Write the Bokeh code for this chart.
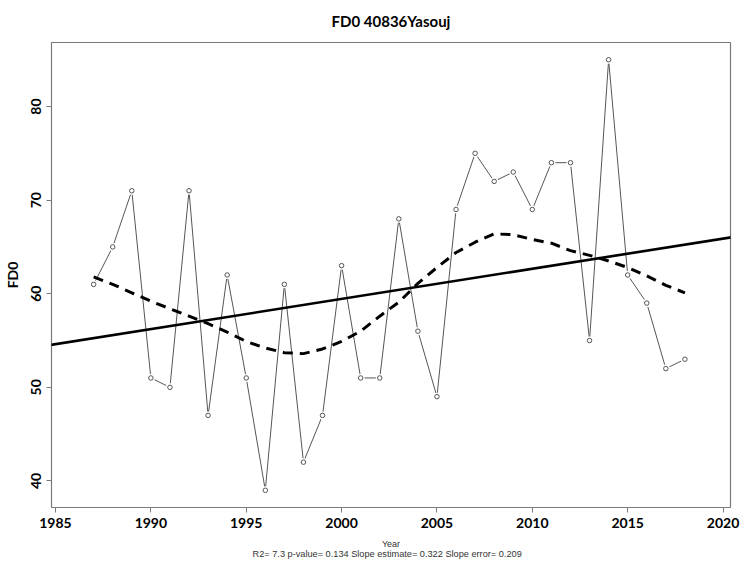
import numpy as np
from bokeh.plotting import figure
from bokeh.models import Range1d, FixedTicker, Slope, LinearAxis
from bokeh.embed import file_html
from bokeh.resources import INLINE

# ---- data ----
years = list(range(1987, 2019))
fd0 = [61, 65, 71, 51, 50, 71, 47, 62, 51, 39, 61, 42, 47, 63, 51, 51,
       68, 56, 49, 69, 75, 72, 73, 69, 74, 74, 55, 85, 62, 59, 52, 53]
# smoothed (loess) curve at each year
smooth_fd0 = [61.8, 61.0, 60.1, 59.2, 58.4, 57.6, 56.8, 55.9, 54.9, 54.2,
              53.7, 53.6, 54.1, 54.9, 56.0, 57.6, 59.1, 61.1, 62.8, 64.4,
              65.5, 66.4, 66.3, 65.8, 65.4, 64.6, 64.1, 63.5, 62.8, 61.9,
              60.9, 60.1]
x_ticks = [1985, 1990, 1995, 2000, 2005, 2010, 2015, 2020]
y_ticks = [40, 50, 60, 70, 80]
title_text = "FD0 40836Yasouj"
x_label = "Year"
y_label = "FD0"
stats_text = "R2= 7.3  p-value= 0.134  Slope estimate= 0.322  Slope error= 0.209"

# linear regression from the data
slope, intercept = np.polyfit(years, fd0, 1)

p = figure(width=744, height=561, output_backend="svg", toolbar_location=None,
           x_range=Range1d(1984.79, 2020.39), y_range=Range1d(37.16, 86.84),
           min_border_left=48, min_border_right=14, min_border_top=42,
           min_border_bottom=53)

p.xgrid.visible = False
p.ygrid.visible = False
p.outline_line_color = "#7a7a7a"
p.outline_line_width = 1.2
p.background_fill_color = "white"
p.border_fill_color = "white"

for ax in (p.xaxis[0], p.yaxis[0]):
    ax.axis_line_color = None
    ax.major_tick_line_color = "#7a7a7a"
    ax.major_tick_out = 5
    ax.major_tick_in = 0
    ax.minor_tick_line_color = None
    ax.major_label_text_font = "Lato"
    ax.major_label_text_font_style = "bold"
    ax.major_label_text_font_size = "14px"
    ax.major_label_text_color = "black"

p.xaxis[0].ticker = FixedTicker(ticks=x_ticks)
p.yaxis[0].ticker = FixedTicker(ticks=y_ticks)
p.yaxis[0].major_label_orientation = "vertical"
p.xaxis[0].major_label_standoff = 5
p.yaxis[0].major_label_standoff = 5

p.xaxis[0].axis_label = x_label
p.xaxis[0].axis_label_text_font = "Liberation Sans"
p.xaxis[0].axis_label_text_font_style = "normal"
p.xaxis[0].axis_label_text_font_size = "9px"
p.xaxis[0].axis_label_text_color = "#333333"
p.xaxis[0].axis_label_standoff = 8

p.yaxis[0].axis_label = y_label
p.yaxis[0].axis_label_text_font = "Lato"
p.yaxis[0].axis_label_text_font_style = "bold"
p.yaxis[0].axis_label_text_font_size = "14px"
p.yaxis[0].axis_label_text_color = "black"
p.yaxis[0].axis_label_standoff = 8


def label_only_axis(text, font, size, style, color, standoff):
    ax = LinearAxis(ticker=FixedTicker(ticks=[]), axis_label=text)
    ax.axis_line_color = None
    ax.major_tick_line_color = None
    ax.minor_tick_line_color = None
    ax.major_tick_out = 0
    ax.major_tick_in = 0
    ax.minor_tick_out = 0
    ax.major_label_text_font_size = "0px"
    ax.axis_label_text_font = font
    ax.axis_label_text_font_size = size
    ax.axis_label_text_font_style = style
    ax.axis_label_text_color = color
    ax.axis_label_standoff = standoff
    return ax


# main title above the frame
p.add_layout(label_only_axis(title_text, "Lato", "15px", "bold", "black", 13), "above")
# statistics line beneath "Year"
p.add_layout(label_only_axis(stats_text, "Liberation Sans", "9.2px", "normal",
                             "#333333", -3), "below")

# data line with open circles (type "b")
p.line(years, fd0, line_color="#555555", line_width=1)
p.scatter(years, fd0, marker="circle", size=8, fill_color="white", line_color=None)
p.scatter(years, fd0, marker="circle", size=4.5, fill_color="white",
          line_color="#555555", line_width=1)

# regression line
p.add_layout(Slope(gradient=slope, y_intercept=intercept,
                   line_color="black", line_width=2.6))

# smoothed dashed curve
p.line(years, smooth_fd0, line_color="black", line_width=3, line_dash="10 7")

open("out.html", "w").write(file_html(p, INLINE))
